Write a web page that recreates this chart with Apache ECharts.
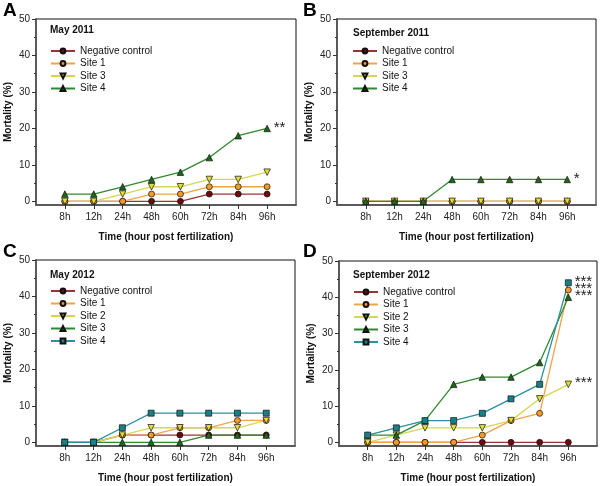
<!DOCTYPE html>
<html><head><meta charset="utf-8">
<script src="https://cdn.jsdelivr.net/npm/echarts@6/dist/echarts.min.js"></script>
<style>html,body{margin:0;padding:0;background:#fff}#c{width:600px;height:486px}</style>
</head><body><div id="c"></div>
<script>
const categories = ['8h','12h','24h','48h','60h','72h','84h','96h'];
const yTickLabels = [0,10,20,30,40,50];
const yMinorTicks = [5,15,25,35,45];

// Panel A - May 2011
const may2011_negative = [0,0,0,0,0,2,2,2];
const may2011_site1    = [0,0,0,2,2,4,4,4];
const may2011_site3    = [0,0,2,4,4,6,6,8];
const may2011_site4    = [2,2,4,6,8,12,18,20];
// Panel B - September 2011
const sep2011_negative = [0,0,0,0,0,0,0,0];
const sep2011_site1    = [0,0,0,0,0,0,0,0];
const sep2011_site3    = [0,0,0,0,0,0,0,0];
const sep2011_site4    = [0,0,0,6,6,6,6,6];
// Panel C - May 2012
const may2012_negative = [0,0,2,2,2,2,2,2];
const may2012_site1    = [0,0,2,2,4,4,6,6];
const may2012_site2    = [0,0,2,4,4,4,4,6];
const may2012_site3    = [0,0,0,0,0,2,2,2];
const may2012_site4    = [0,0,4,8,8,8,8,8];
// Panel D - September 2012
const sep2012_negative = [0,0,0,0,0,0,0,0];
const sep2012_site1    = [0,0,0,0,2,6,8,42];
const sep2012_site2    = [0,2,4,4,4,6,12,16];
const sep2012_site3    = [2,2,6,16,18,18,22,40];
const sep2012_site4    = [2,4,6,6,8,12,16,44];

const styles = {
  neg:    {symbol:'circle',   rot:0,   line:'#9a3434', fill:'#6a0c0c'},
  orange: {symbol:'circle',   rot:0,   line:'#f0a448', fill:'#f39a2a'},
  yellow: {symbol:'triangle', rot:180, line:'#d6d655', fill:'#e2df30'},
  green:  {symbol:'triangle', rot:0,   line:'#2f8a2f', fill:'#1b6a1b'},
  teal:   {symbol:'rect',     rot:0,   line:'#2b8fa0', fill:'#1a7f86'}
};

const panels = [
  {letter:'A', title:'May 2011', grid:{left:36, top:19, width:260, height:186},
   letterPos:{left:3, top:1}, titlePos:{left:50, top:25}, legendPos:{left:50, top:45},
   series:[['Negative control', may2011_negative,'neg',''],['Site 1', may2011_site1,'orange',''],
           ['Site 3', may2011_site3,'yellow',''],['Site 4', may2011_site4,'green','**']]},
  {letter:'B', title:'September 2011', grid:{left:337, top:19, width:259, height:186},
   letterPos:{left:303, top:1}, titlePos:{left:353, top:28}, legendPos:{left:352, top:45},
   series:[['Negative control', sep2011_negative,'neg',''],['Site 1', sep2011_site1,'orange',''],
           ['Site 3', sep2011_site3,'yellow',''],['Site 4', sep2011_site4,'green','*']]},
  {letter:'C', title:'May 2012', grid:{left:36, top:260, width:259, height:186},
   letterPos:{left:3, top:242}, titlePos:{left:50, top:270}, legendPos:{left:50, top:285},
   series:[['Negative control', may2012_negative,'neg',''],['Site 1', may2012_site1,'orange',''],
           ['Site 2', may2012_site2,'yellow',''],['Site 3', may2012_site3,'green',''],
           ['Site 4', may2012_site4,'teal','']]},
  {letter:'D', title:'September 2012', grid:{left:339, top:261, width:258, height:185},
   letterPos:{left:303, top:242}, titlePos:{left:353, top:270}, legendPos:{left:353, top:286},
   series:[['Negative control', sep2012_negative,'neg',''],['Site 1', sep2012_site1,'orange','***'],
           ['Site 2', sep2012_site2,'yellow','***'],['Site 3', sep2012_site3,'green','***'],
           ['Site 4', sep2012_site4,'teal','***']]}
];

const option = {animation:false, backgroundColor:'#fff', grid:[], xAxis:[], yAxis:[], series:[], title:[], legend:[]};
const FONT = 'Liberation Sans, Arial, sans-serif';

panels.forEach((p, i) => {
  option.grid.push(Object.assign({show:true, borderColor:'#111', borderWidth:1, backgroundColor:'transparent'}, p.grid));
  option.xAxis.push({
    type:'value', gridIndex:i, min:-1, max:8, position:'bottom',
    axisLine:{onZero:false, lineStyle:{color:'#5a5a5a', width:2}},
    axisTick:{customValues:[0,1,2,3,4,5,6,7], length:4, lineStyle:{color:'#333', width:1}},
    axisLabel:{customValues:[0,1,2,3,4,5,6,7], formatter:v => categories[Math.round(v)], fontSize:10, color:'#222', margin:7, fontFamily:FONT},
    splitLine:{show:false},
    name:'Time (hour post fertilization)', nameLocation:'middle', nameGap:27,
    nameTextStyle:{fontSize:10, fontWeight:'bold', color:'#111', fontFamily:FONT}
  });
  option.yAxis.push({
    type:'value', gridIndex:i, min:-1, max:50, position:'left',
    axisLine:{show:true, onZero:false, lineStyle:{color:'#5a5a5a', width:2}},
    axisTick:{customValues:yTickLabels, length:4, lineStyle:{color:'#333', width:1}},
    axisLabel:{customValues:yTickLabels, fontSize:10, color:'#222', margin:6, fontFamily:FONT},
    splitLine:{show:false},
    name:'Mortality (%)', nameLocation:'middle', nameGap:23,
    nameTextStyle:{fontSize:10, fontWeight:'bold', color:'#111', fontFamily:FONT}
  });
  option.yAxis.push({
    type:'value', gridIndex:i, min:-1, max:50, position:'left', offset:0,
    axisLine:{show:false, onZero:false},
    axisTick:{customValues:yMinorTicks, length:2, lineStyle:{color:'#333', width:1}},
    axisLabel:{show:false}, splitLine:{show:false}
  });
  option.title.push({text:p.letter, left:p.letterPos.left, top:p.letterPos.top, padding:0,
    textStyle:{fontSize:19, fontWeight:'bold', color:'#000', fontFamily:FONT}});
  option.title.push({text:p.title, left:p.titlePos.left, top:p.titlePos.top, padding:0,
    textStyle:{fontSize:10, fontWeight:'bold', color:'#111', fontFamily:FONT}});
  const legendNames = [];
  p.series.forEach(([name, vals, sk, sig]) => {
    const st = styles[sk];
    const key = p.letter + '|' + name;
    legendNames.push(key);
    const data = vals.map((v, j) => {
      const item = {value:[j, v]};
      if (sig && j === vals.length - 1) {
        item.label = {show:true, position:'right', distance:3, formatter:sig, fontSize:15, color:'#222', fontFamily:FONT, offset:[0,-1]};
      }
      return item;
    });
    option.series.push({
      type:'line', name:key, xAxisIndex:i, yAxisIndex:i*2, data,
      symbol:st.symbol, symbolRotate:st.rot, symbolSize: st.symbol==='triangle' ? 6.5 : 6,
      lineStyle:{color:st.line, width:1.3},
      itemStyle:{color:st.fill, borderColor:'#111', borderWidth:0.7},
      label:{show:false}, emphasis:{disabled:true}
    });
  });
  option.legend.push({
    orient:'vertical', left:p.legendPos.left, top:p.legendPos.top, padding:0,
    itemWidth:24, itemHeight:6, itemGap:0.5, data:legendNames, selectedMode:false,
    formatter:n => n.split('|')[1],
    textStyle:{fontSize:10, color:'#111', lineHeight:12, fontFamily:FONT}
  });
});

const chart = echarts.init(document.getElementById('c'), null, {renderer:'canvas'});
chart.setOption(option);
</script></body></html>
